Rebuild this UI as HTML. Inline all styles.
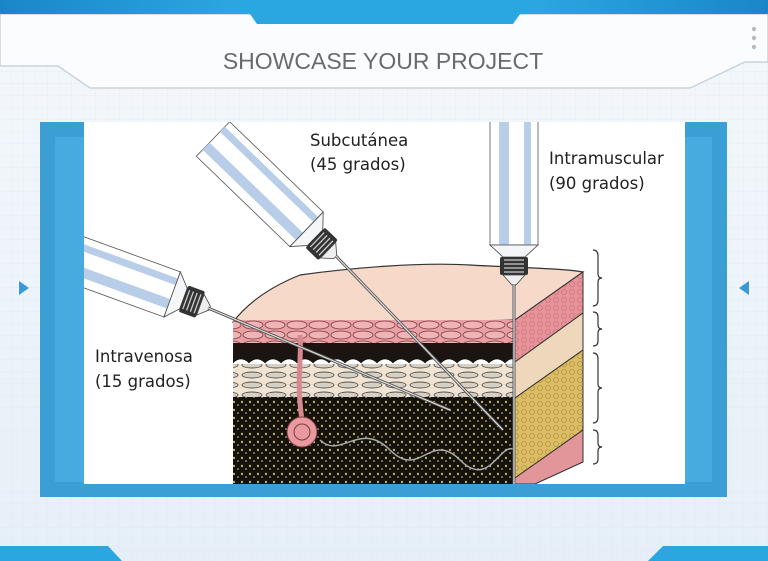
<!DOCTYPE html>
<html><head><meta charset="utf-8"><style>
html,body{margin:0;padding:0;width:768px;height:561px;overflow:hidden;background:#eaf2f9;}
svg{display:block}
</style></head><body>
<svg width="768" height="561" viewBox="0 0 768 561" xmlns="http://www.w3.org/2000/svg">
<defs>
<linearGradient id="bg" x1="0" y1="0" x2="0" y2="1"><stop offset="0" stop-color="#f4f8fc"/><stop offset="1" stop-color="#e6eff7"/></linearGradient>
<linearGradient id="topbar" x1="0" y1="0" x2="1" y2="0"><stop offset="0" stop-color="#1a86c8"/><stop offset="0.3" stop-color="#2aa6e0"/><stop offset="0.7" stop-color="#2aa6e0"/><stop offset="1" stop-color="#1a86c8"/></linearGradient>
<pattern id="grid" width="12" height="12" patternUnits="userSpaceOnUse"><path d="M12 0V12H0" fill="none" stroke="#dfe8f1" stroke-width="1"/></pattern>
<pattern id="cells" width="22" height="10" patternUnits="userSpaceOnUse"><rect width="22" height="10" fill="#e8a0a4"/><ellipse cx="11" cy="5" rx="10" ry="4" fill="#f0b4b6" stroke="#7a3a40" stroke-width="0.8"/></pattern>
<pattern id="fat" width="8" height="8" patternUnits="userSpaceOnUse"><rect width="8" height="8" fill="#15110c"/><circle cx="2" cy="2" r="1.2" fill="#b9ad6c"/><circle cx="6" cy="5" r="1" fill="#8f8656"/></pattern>
<pattern id="derm" width="24" height="10" patternUnits="userSpaceOnUse"><rect width="24" height="10" fill="#f1e4d2"/><ellipse cx="12" cy="5" rx="10" ry="3" fill="#d9d0c4" stroke="#555" stroke-width="0.9"/></pattern>
<pattern id="side1" width="8" height="8" patternUnits="userSpaceOnUse"><rect width="8" height="8" fill="#e7939a"/><circle cx="4" cy="4" r="2.5" fill="none" stroke="#c26b73" stroke-width="0.6"/></pattern>
<pattern id="side3" width="8" height="8" patternUnits="userSpaceOnUse"><rect width="8" height="8" fill="#dcbd63"/><circle cx="4" cy="4" r="2.5" fill="none" stroke="#a48a45" stroke-width="0.6"/></pattern>
<clipPath id="img"><rect x="84" y="122" width="601" height="362"/></clipPath>
<g id="syr">
<rect x="0" y="-24" width="130" height="48" fill="#fff" stroke="#555" stroke-width="0.8"/>
<rect x="0" y="-17" width="130" height="7" fill="#b8cde8"/>
<rect x="0" y="5" width="130" height="10" fill="#b8cde8"/>
<path d="M130 -24 L142 -11 L142 11 L130 24Z" fill="#f4f6f8" stroke="#444" stroke-width="0.8"/>
<rect x="142" y="-14" width="18" height="28" rx="2" fill="#333"/>
<path d="M145 -10v20M149 -10v20M153 -10v20M157 -10v20" stroke="#ccc" stroke-width="1.3"/>
<path d="M160 -11 L170 -2 L170 2 L160 11Z" fill="#eee" stroke="#444" stroke-width="0.8"/>
</g>
</defs>
<rect width="768" height="561" fill="url(#bg)"/>
<rect width="768" height="561" fill="url(#grid)" opacity="0.6"/>
<path d="M0 14H768V62L745 62 690 88H90L58 66 0 66Z" fill="#fbfcfd" stroke="#c9d3dc" stroke-width="1.5"/>
<rect x="0" y="0" width="768" height="14" fill="url(#topbar)"/>
<path d="M250 14H520L513 24H257Z" fill="#2aa6e0"/>
<circle cx="754" cy="29" r="2.2" fill="#b5bcc3"/><circle cx="754" cy="38" r="2.2" fill="#b5bcc3"/><circle cx="754" cy="47" r="2.2" fill="#b5bcc3"/>
<text x="383" y="69" text-anchor="middle" font-family="Liberation Sans, sans-serif" font-size="23" fill="#6a6a6a">SHOWCASE YOUR PROJECT</text>
<path d="M0 546H108L122 561H0Z" fill="#2aa6e0"/>
<path d="M663 546H768V561H648Z" fill="#2aa6e0"/>
<path d="M19 281L29 288L19 295Z" fill="#3a9ad8"/>
<path d="M749 281L739 288L749 295Z" fill="#3a9ad8"/>
<rect x="40" y="122" width="687" height="375" fill="#3b9fd6"/>
<rect x="55" y="137" width="657" height="345" fill="#48abe0"/>
<rect x="84" y="122" width="601" height="362" fill="#ffffff"/>
<g clip-path="url(#img)">
<path d="M233 322 C250 300 275 285 300 275 C350 268 420 262 470 265 C520 268 560 268 583 272 L515 320 C460 322 330 320 233 322Z" fill="#f6d9c8" stroke="#333" stroke-width="1.2"/>
<rect x="233" y="320" width="282" height="24" fill="url(#cells)"/>
<rect x="233" y="343" width="282" height="20" fill="#1b1411"/>
<path d="M233 363 q8 -8 16 0 q8 -8 16 0 q8 -8 16 0 q8 -8 16 0 q8 -8 16 0 q8 -8 16 0 q8 -8 16 0 q8 -8 16 0 q8 -8 16 0 q8 -8 16 0 q8 -8 16 0 q8 -8 16 0 q8 -8 16 0 q8 -8 16 0 q8 -8 16 0 q8 -8 16 0 q8 -8 16 0 q8 -8 10 0" fill="#fff" stroke="#000" stroke-width="0.5"/>
<rect x="233" y="364" width="282" height="34" fill="url(#derm)"/>
<rect x="233" y="397" width="282" height="87" fill="url(#fat)"/>
<path d="M300 335 C302 360 296 380 302 420" stroke="#d98890" stroke-width="5" fill="none"/>
<circle cx="302" cy="432" r="15" fill="#e89aa0" stroke="#7a3a40" stroke-width="1"/>
<circle cx="302" cy="432" r="8" fill="none" stroke="#7a3a40" stroke-width="1"/>
<path d="M320 440 C340 460 360 420 390 450 S430 430 460 460 S500 440 515 450" stroke="#aaa" stroke-width="1.5" fill="none"/>
<path d="M515 320 L583 272 L583 313 L515 362Z" fill="url(#side1)" stroke="#333" stroke-width="1"/>
<path d="M515 362 L583 313 L583 350 L515 398Z" fill="#efd7bc" stroke="#333" stroke-width="1"/>
<path d="M515 398 L583 350 L583 430 L515 478Z" fill="url(#side3)" stroke="#333" stroke-width="1"/>
<path d="M515 478 L583 430 L583 462 L535 484 L515 484Z" fill="#e3969a" stroke="#333" stroke-width="1"/>
<g transform="translate(213,139) rotate(44)"><use href="#syr"/></g>
<line x1="336" y1="256" x2="503" y2="430" stroke="#555" stroke-width="3"/>
<line x1="336" y1="256" x2="503" y2="430" stroke="#ddd" stroke-width="1.2"/>
<g transform="translate(50,250) rotate(20)"><use href="#syr"/></g>
<line x1="208" y1="308" x2="450" y2="410" stroke="#555" stroke-width="3"/>
<line x1="208" y1="308" x2="450" y2="410" stroke="#ddd" stroke-width="1.2"/>
<g transform="translate(514,115) rotate(90)"><use href="#syr"/></g>
<line x1="514" y1="284" x2="514" y2="484" stroke="#555" stroke-width="3"/>
<line x1="514" y1="284" x2="514" y2="484" stroke="#ddd" stroke-width="1.2"/>
</g>
<g fill="none" stroke="#333" stroke-width="1.2">
<path d="M593 250 q5 0 5 6 v18 q0 4 4 4 q-4 0 -4 4 v18 q0 6 -5 6"/>
<path d="M593 312 q5 0 5 5 v8 q0 4 4 4 q-4 0 -4 4 v8 q0 5 -5 5"/>
<path d="M593 353 q5 0 5 6 v25 q0 4 4 4 q-4 0 -4 4 v25 q0 6 -5 6"/>
<path d="M593 430 q5 0 5 5 v8 q0 4 4 4 q-4 0 -4 4 v8 q0 5 -5 5"/>
</g>
<g font-family="DejaVu Sans, sans-serif" font-size="16.5" fill="#222">
<text x="310" y="146">Subcutánea</text>
<text x="310" y="170">(45 grados)</text>
<text x="549" y="164">Intramuscular</text>
<text x="549" y="189">(90 grados)</text>
<text x="95" y="362">Intravenosa</text>
<text x="95" y="387">(15 grados)</text>
</g>
</svg>
</body></html>
